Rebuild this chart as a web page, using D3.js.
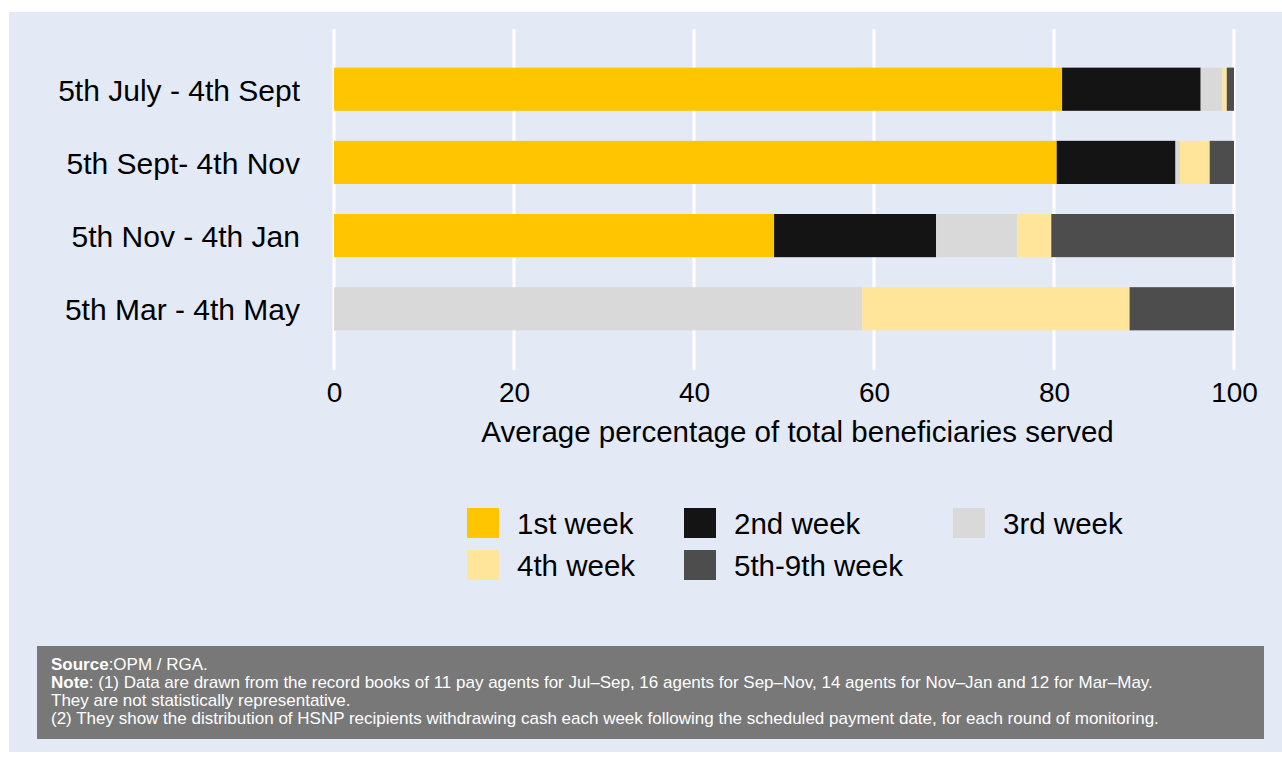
<!DOCTYPE html>
<html>
<head>
<meta charset="utf-8">
<script src="https://cdn.jsdelivr.net/npm/d3@7"></script>
<style>
  body { margin: 0; background: #fff; }
  text { font-family: "Liberation Sans", Arial, sans-serif; }
</style>
</head>
<body>
<svg id="chart" width="1282" height="760"></svg>
<script>
// periods (top to bottom)
const periods = ['5th July - 4th Sept', '5th Sept- 4th Nov', '5th Nov - 4th Jan', '5th Mar - 4th May'];
const weeks = ['1st week', '2nd week', '3rd week', '4th week', '5th-9th week'];
const weekColors = ['#ffc600', '#141414', '#d9d9d9', '#ffe599', '#4d4d4d'];
// percentage per week, one array per period
const week1 = [80.9, 80.3, 48.9, 0];
const week2 = [15.4, 13.2, 18.0, 0];
const week3 = [2.4, 0.5, 9.0, 58.7];
const week4 = [0.5, 3.3, 3.8, 29.7];
const week5 = [0.8, 2.7, 20.3, 11.6];
const xTicks = [0, 20, 40, 60, 80, 100];

const rows = periods.map((p, i) => ({
    period: p,
    '1st week': week1[i], '2nd week': week2[i], '3rd week': week3[i],
    '4th week': week4[i], '5th-9th week': week5[i]
}));

const svg = d3.select('#chart');

// background panel
svg.append('rect').attr('x', 9).attr('y', 12).attr('width', 1273).attr('height', 740)
   .style('fill', '#e3eaf6');

const margin = {left: 334, right: 48, top: 29, bottom: 0};
const chartW = 900;
const xScale = d3.scaleLinear([0, 100], [margin.left, margin.left + chartW]);
const yScale = d3.scaleBand().domain(periods).range([53, 345]).paddingInner(0.41).paddingOuter(0.2);

// gridlines
svg.append('g').selectAll('line').data(xTicks).join('line')
   .attr('x1', d => xScale(d)).attr('x2', d => xScale(d))
   .attr('y1', 29).attr('y2', 370)
   .style('stroke', '#fff').style('stroke-width', 3);

const stack = d3.stack().keys(weeks)(rows);
const color = d3.scaleOrdinal(weeks, weekColors);

svg.append('g').selectAll('g').data(stack).join('g')
   .style('fill', d => color(d.key))
   .selectAll('rect').data(d => d).join('rect')
   .attr('x', d => xScale(d[0]))
   .attr('y', d => yScale(d.data.period))
   .attr('width', d => xScale(d[1]) - xScale(d[0]))
   .attr('height', yScale.bandwidth());

// y labels
const yAxis = svg.append('g').attr('transform', `translate(${margin.left - 34},2)`)
   .call(d3.axisLeft(yScale).tickSize(0).tickPadding(0));
yAxis.select('.domain').remove();
yAxis.selectAll('text').style('font-size', '30px').style('fill', '#000')
   .attr('font-family', null);

// x axis
const xAxis = svg.append('g').attr('transform', 'translate(0,382)')
   .call(d3.axisBottom(xScale).tickValues(xTicks).tickSize(0).tickPadding(0));
xAxis.select('.domain').remove();
xAxis.selectAll('text').style('font-size', '28px').style('fill', '#000')
   .attr('dy', '0.71em').attr('font-family', null);

svg.append('text').attr('x', xScale(51.5)).attr('y', 442)
   .attr('text-anchor', 'middle').style('font-size', '29.5px')
   .text('Average percentage of total beneficiaries served');

// legend
const legendPos = [[467, 508], [684, 508], [953, 508], [467, 550], [684, 550]];
const legend = svg.append('g').selectAll('g').data(weeks).join('g')
   .attr('transform', (d, i) => `translate(${legendPos[i][0]},${legendPos[i][1]})`);
legend.append('rect').attr('width', 32).attr('height', 30).style('fill', d => color(d));
legend.append('text').attr('x', 50).attr('y', 26).style('font-size', '29.5px').text(d => d);

// note box
const note = svg.append('g');
note.append('rect').attr('x', 37).attr('y', 646).attr('width', 1227).attr('height', 93)
   .style('fill', '#787878');
const noteLines = [670, 688, 706, 724];
const t1 = note.append('text').attr('x', 51).attr('y', noteLines[0]).style('font-size', '17px').style('fill', '#fff');
t1.append('tspan').style('font-weight', 'bold').text('Source');
t1.append('tspan').text(':OPM / RGA.');
const t2 = note.append('text').attr('x', 51).attr('y', noteLines[1]).style('font-size', '17px').style('fill', '#fff');
t2.append('tspan').style('font-weight', 'bold').text('Note');
t2.append('tspan').text(': (1) Data are drawn from the record books of 11 pay agents for Jul\u2013Sep, 16 agents for Sep\u2013Nov, 14 agents for Nov\u2013Jan and 12 for Mar\u2013May.');
note.append('text').attr('x', 51).attr('y', noteLines[2]).style('font-size', '17px').style('fill', '#fff')
   .text('They are not statistically representative.');
note.append('text').attr('x', 51).attr('y', noteLines[3]).style('font-size', '17px').style('fill', '#fff')
   .text('(2) They show the distribution of HSNP recipients withdrawing cash each week following the scheduled payment date, for each round of monitoring.');
</script>
</body>
</html>
